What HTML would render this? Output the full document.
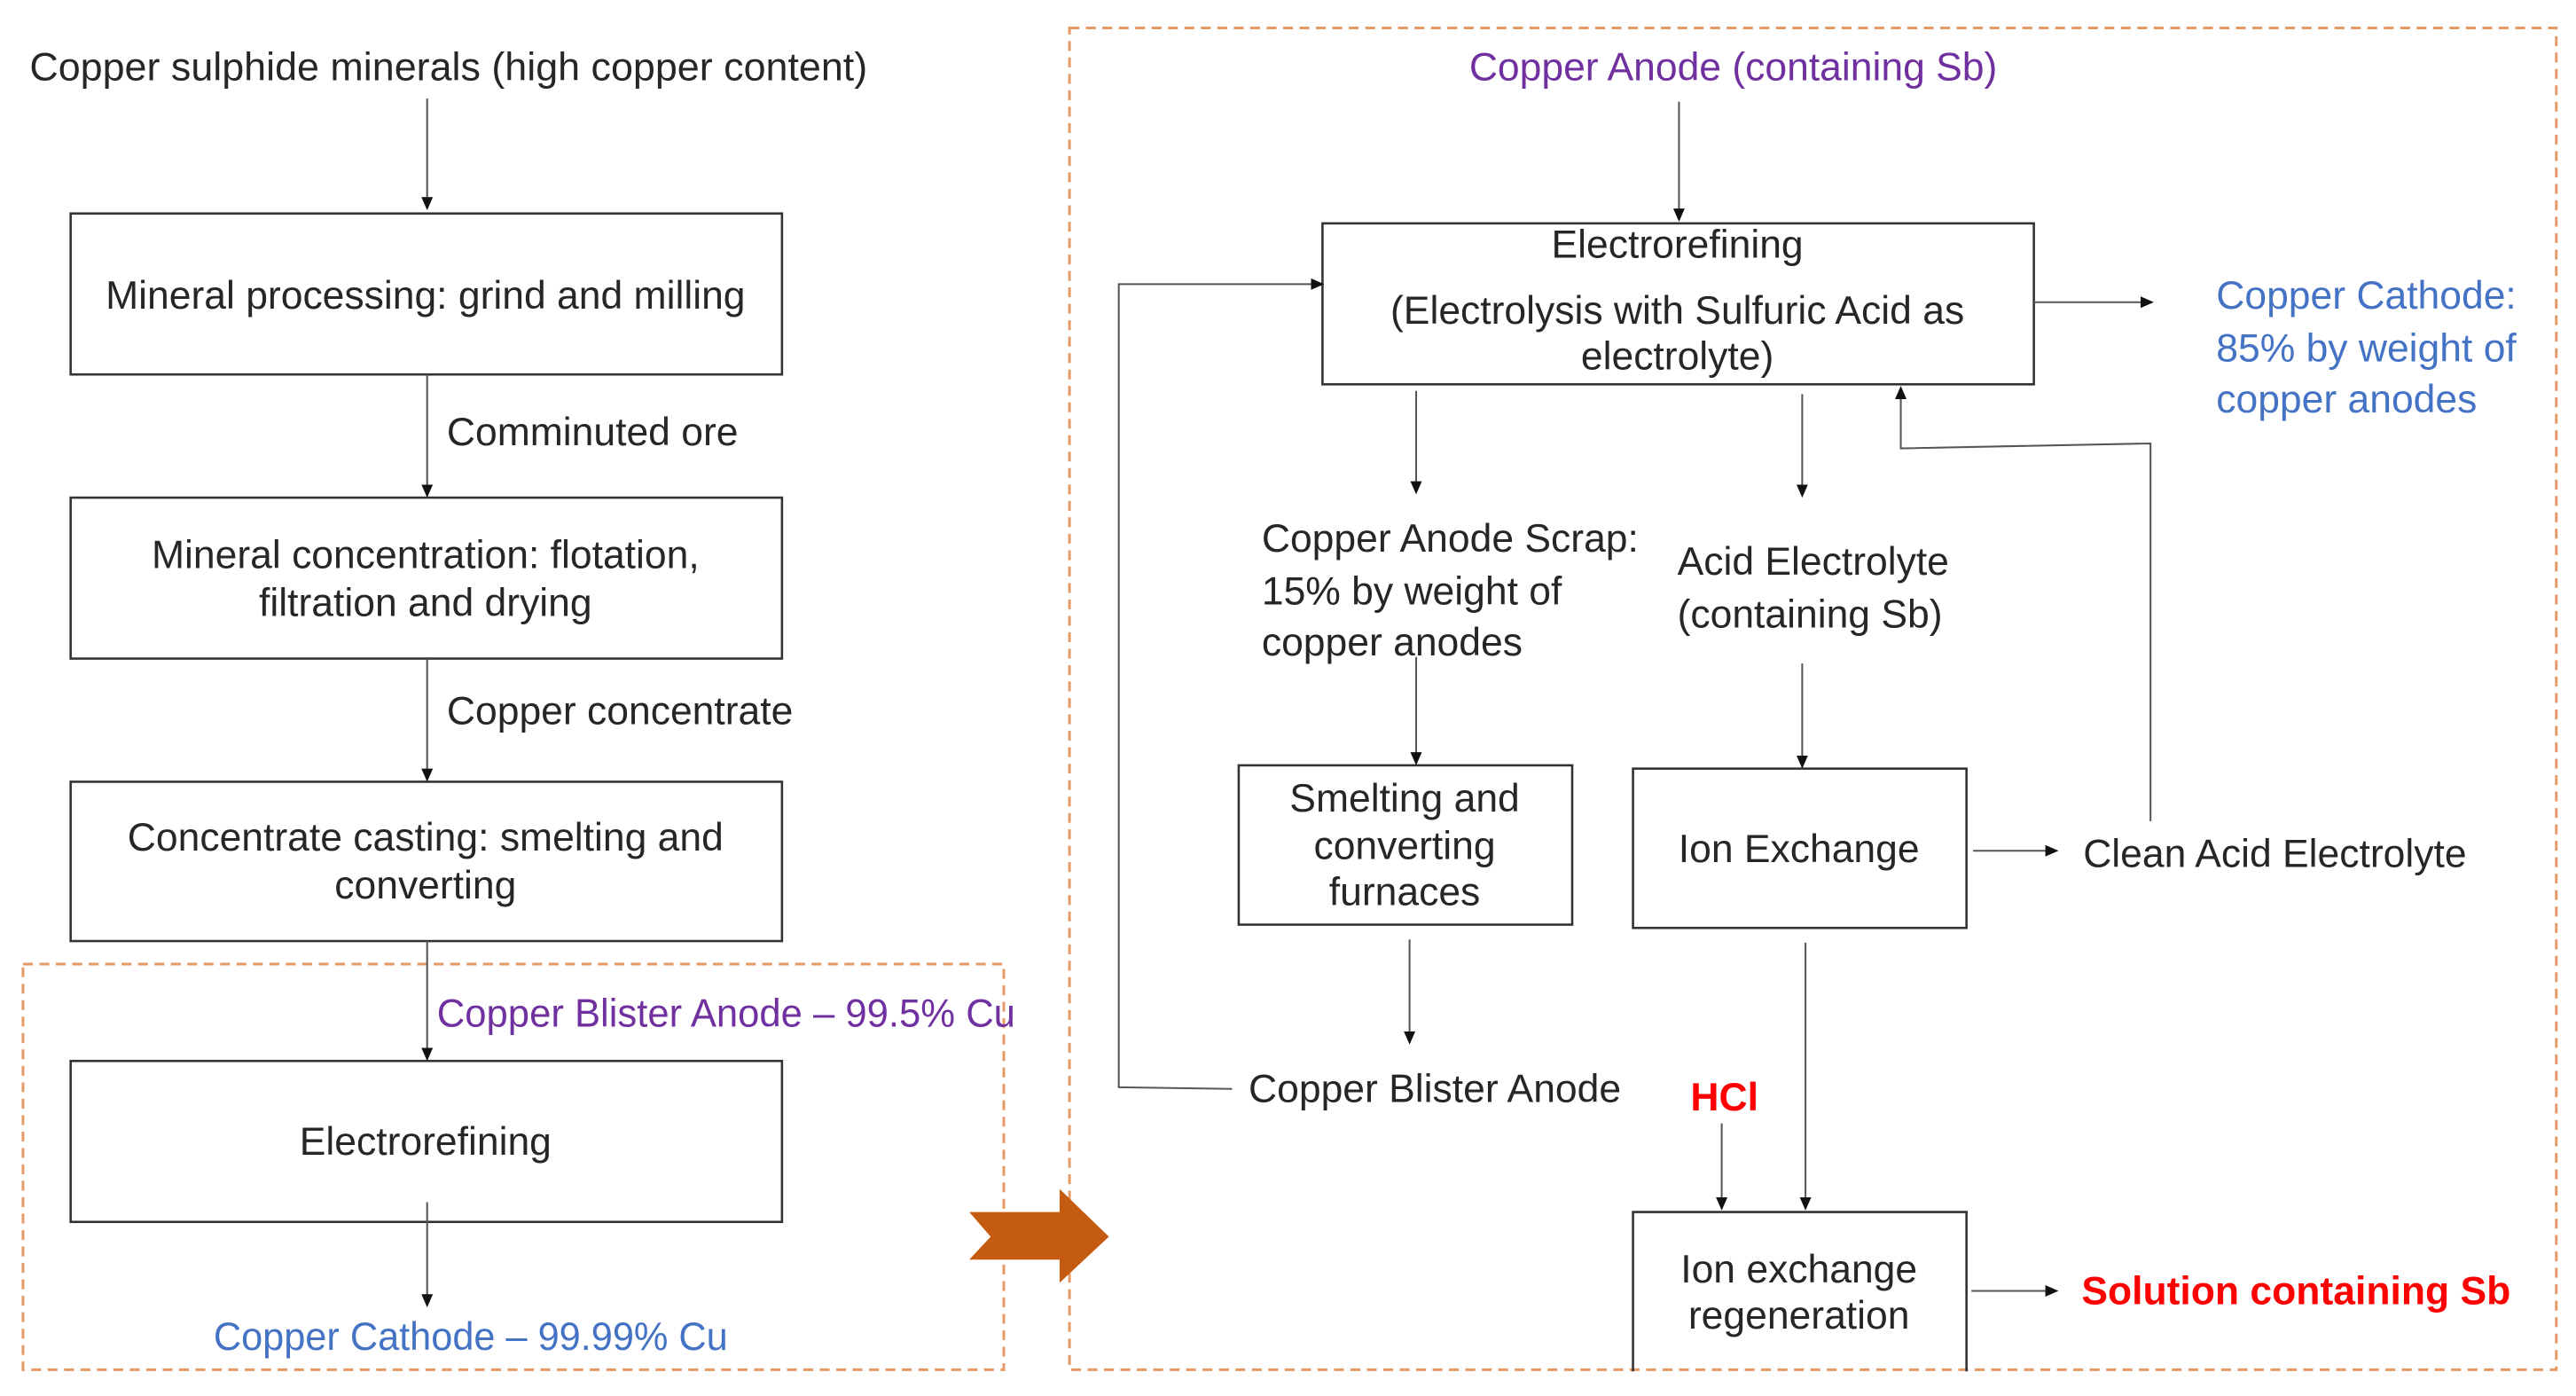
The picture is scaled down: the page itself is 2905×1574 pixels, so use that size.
<!DOCTYPE html>
<html><head><meta charset="utf-8"><style>
html,body{margin:0;padding:0;background:#fff;}
svg{display:block;}
text{font-family:"Liberation Sans",sans-serif;font-size:24px;fill:#262626;}
.p{fill:#7030A0}.b{fill:#4472C4}.r{fill:#FF0000;font-weight:bold}
</style></head><body>
<svg width="2905" height="1574" viewBox="0 0 1568 850" preserveAspectRatio="none" xmlns="http://www.w3.org/2000/svg">
<defs><marker id="a" markerWidth="8" markerHeight="8" refX="7" refY="4" orient="auto" markerUnits="userSpaceOnUse"><path d="M0,0.5 L8,4 L0,7.5z" fill="#111"/></marker></defs>
<g fill="none" stroke="#E59A66" stroke-width="1.6" stroke-dasharray="6,4">
<rect x="14" y="587" width="597" height="247"/>
<rect x="651" y="17" width="905" height="817"/>
</g>
<path d="M590,738 L645,738 L645,724 L675,753 L645,781 L645,767 L590,767 L603,753z" fill="#C55A11"/>
<g fill="none" stroke="#333" stroke-width="1.4">
<rect x="43" y="130" width="433" height="98"/>
<rect x="43" y="303" width="433" height="98"/>
<rect x="43" y="476" width="433" height="97"/>
<rect x="43" y="646" width="433" height="98"/>
<rect x="805" y="136" width="433" height="98"/>
<rect x="754" y="466" width="203" height="97"/>
<rect x="994" y="468" width="203" height="97"/>
<path d="M994,835 L994,738 L1197,738 L1197,835"/>
</g>
<g fill="none" stroke="#555" stroke-width="1.1" marker-end="url(#a)">
<line x1="260" y1="60" x2="260" y2="127"/>
<line x1="260" y1="228" x2="260" y2="302"/>
<line x1="260" y1="401" x2="260" y2="475"/>
<line x1="260" y1="573" x2="260" y2="645"/>
<line x1="260" y1="732" x2="260" y2="795"/>
<line x1="1022" y1="62" x2="1022" y2="134"/>
<line x1="1238" y1="184" x2="1310" y2="184"/>
<line x1="862" y1="238" x2="862" y2="300"/>
<line x1="1097" y1="240" x2="1097" y2="302"/>
<line x1="862" y1="400" x2="862" y2="465"/>
<line x1="1097" y1="404" x2="1097" y2="467"/>
<line x1="1201" y1="518" x2="1252" y2="518"/>
<polyline points="1309,500 1309,270 1157,273 1157,236"/>
<line x1="858" y1="572" x2="858" y2="635"/>
<polyline points="750,663 681,662 681,173 805,173"/>
<line x1="1048" y1="684" x2="1048" y2="736"/>
<line x1="1099" y1="574" x2="1099" y2="736"/>
<line x1="1200" y1="786" x2="1252" y2="786"/>
</g>
<text x="18" y="49" textLength="510" lengthAdjust="spacingAndGlyphs">Copper sulphide minerals (high copper content)</text>
<text x="259" y="188" text-anchor="middle">Mineral processing: grind and milling</text>
<text x="272" y="271">Comminuted ore</text>
<text x="259" y="346" text-anchor="middle">Mineral concentration: flotation,</text>
<text x="259" y="375" text-anchor="middle">filtration and drying</text>
<text x="272" y="441">Copper concentrate</text>
<text x="259" y="518" text-anchor="middle">Concentrate casting: smelting and</text>
<text x="259" y="547" text-anchor="middle">converting</text>
<text x="266" y="625" class="p" textLength="352" lengthAdjust="spacingAndGlyphs">Copper Blister Anode – 99.5% Cu</text>
<text x="259" y="703" text-anchor="middle">Electrorefining</text>
<text x="130" y="822" class="b" textLength="313" lengthAdjust="spacingAndGlyphs">Copper Cathode – 99.99% Cu</text>
<text x="1055" y="49" class="p" text-anchor="middle">Copper Anode (containing Sb)</text>
<text x="1021" y="157" text-anchor="middle">Electrorefining</text>
<text x="1021" y="197" text-anchor="middle">(Electrolysis with Sulfuric Acid as</text>
<text x="1021" y="225" text-anchor="middle">electrolyte)</text>
<text x="1349" y="188" class="b">Copper Cathode:</text>
<text x="1349" y="220" class="b">85% by weight of</text>
<text x="1349" y="251" class="b">copper anodes</text>
<text x="768" y="336">Copper Anode Scrap:</text>
<text x="768" y="368">15% by weight of</text>
<text x="768" y="399">copper anodes</text>
<text x="1021" y="350">Acid Electrolyte</text>
<text x="1021" y="382">(containing Sb)</text>
<text x="855" y="494" text-anchor="middle">Smelting and</text>
<text x="855" y="523" text-anchor="middle">converting</text>
<text x="855" y="551" text-anchor="middle">furnaces</text>
<text x="1095" y="525" text-anchor="middle">Ion Exchange</text>
<text x="1268" y="528">Clean Acid Electrolyte</text>
<text x="760" y="671">Copper Blister Anode</text>
<text x="1029" y="676" class="r">HCl</text>
<text x="1095" y="781" text-anchor="middle">Ion exchange</text>
<text x="1095" y="809" text-anchor="middle">regeneration</text>
<text x="1267" y="794" class="r">Solution containing Sb</text>
</svg>
</body></html>
